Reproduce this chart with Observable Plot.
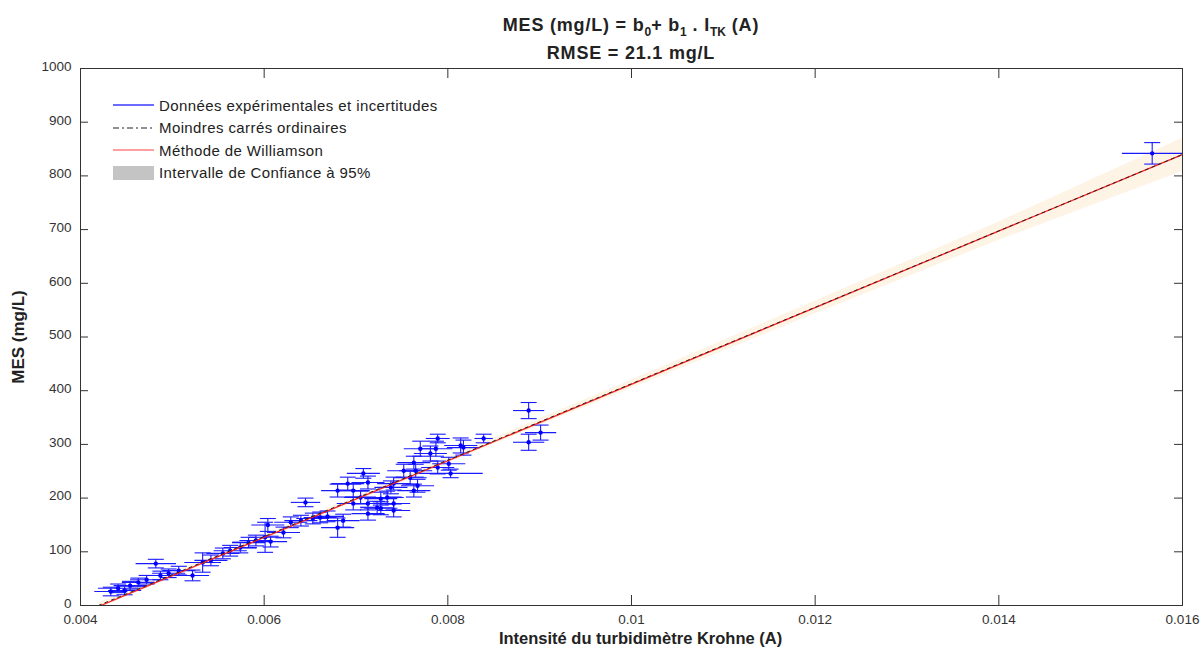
<!DOCTYPE html>
<html><head><meta charset="utf-8">
<script src="https://cdn.jsdelivr.net/npm/d3@7"></script>
<script src="https://cdn.jsdelivr.net/npm/@observablehq/plot@0.6"></script>
<style>
body{margin:0;background:#fff;font-family:"Liberation Sans",Arial,sans-serif;}
#wrap{position:relative;width:1203px;height:651px;overflow:hidden;}
#title{position:absolute;left:80px;width:1102px;top:11px;text-align:center;font-weight:bold;font-size:18px;letter-spacing:0.8px;color:#222;line-height:28px;}
#title sub{font-size:12px;vertical-align:-5px;line-height:0;letter-spacing:0;}
#legend{position:absolute;left:113px;top:94px;font-size:15px;letter-spacing:0.4px;color:#222;}
.row{height:22.5px;display:flex;align-items:center;}
.row svg{margin-right:5px;}
</style></head><body>
<div id="wrap"><div id="chart"></div>
<div id="title">MES (mg/L) = b<sub>0</sub>+ b<sub>1</sub> . I<sub>TK</sub> (A)<br>RMSE = 21.1 mg/L</div>
<div id="legend">
 <div class="row"><svg width="41" height="12"><line x1="0" x2="41" y1="6" y2="6" stroke="#3a3aff" stroke-width="1.3"/></svg>Données expérimentales et incertitudes</div>
 <div class="row"><svg width="41" height="12"><line x1="0" x2="41" y1="6" y2="6" stroke="#222" stroke-width="1.2" stroke-dasharray="6,3,2,3"/></svg>Moindres carrés ordinaires</div>
 <div class="row"><svg width="41" height="12"><line x1="0" x2="41" y1="6" y2="6" stroke="#ff4040" stroke-width="1.2"/></svg>Méthode de Williamson</div>
 <div class="row"><svg width="41" height="16"><rect x="0" y="1" width="41" height="14" fill="#c4c4c4"/></svg>Intervalle de Confiance à 95%</div>
</div>
</div>
<script>
// Experimental data (intensity in A, MES in mg/L) with uncertainties
const intensity = [0.00433,0.00441,0.00448,0.00454,0.00463,0.00472,0.00482,0.00487,0.00496,0.00507,
 0.00522,0.00533,0.00542,0.00555,0.00563,0.00574,0.00583,0.00591,0.00601,0.00607,
 0.00604,0.00621,0.00629,0.00640,0.00645,0.00653,0.00661,0.00669,0.00680,0.00686,
 0.00680,0.00691,0.00697,0.00697,0.00705,0.00708,0.00713,0.00713,0.00713,0.00723,
 0.00727,0.00727,0.00734,0.00738,0.00741,0.00741,0.00741,0.00752,0.00759,0.00763,
 0.00765,0.00767,0.00763,0.00770,0.00781,0.00787,0.00789,0.00789,0.00801,0.00803,
 0.00814,0.00817,0.00839,0.00888,0.00901,0.00888,0.01567];
const mes = [26,32,28,37,43,48,78,56,60,65,
 56,80,84,97,102,108,117,121,127,119,
 150,136,155,158,192,162,164,166,145,158,
 214,227,214,190,201,246,229,190,171,182,
 199,181,201,220,177,227,190,251,238,266,
 251,223,214,292,283,292,311,257,264,246,
 298,294,311,363,322,304,842];
const errI = [0.00018,0.00022,0.00018,0.00018,0.00018,0.00018,0.00022,0.00018,0.00018,0.00018,
 0.00018,0.00020,0.00018,0.00018,0.00018,0.00018,0.00018,0.00018,0.00018,0.00018,
 0.00018,0.00018,0.00018,0.00018,0.00016,0.00018,0.00018,0.00018,0.00018,0.00018,
 0.00018,0.00018,0.00018,0.00018,0.00018,0.00018,0.00018,0.00018,0.00018,0.00018,
 0.00018,0.00018,0.00018,0.00018,0.00018,0.00018,0.00018,0.00018,0.00018,0.00018,
 0.00018,0.00018,0.00018,0.00018,0.00018,0.00018,0.00013,0.00018,0.00018,0.00035,
 0.00018,0.00018,0.00010,0.00017,0.00017,0.00017,0.00033];
const errMES = [8,8,8,8,8,8,8,8,8,8,
 10,18,10,10,10,10,10,10,28,10,
 12,10,10,10,8,10,10,10,18,12,
 12,12,12,12,12,9,12,12,12,12,
 12,12,12,12,12,12,12,12,12,12,
 12,12,12,14,14,14,8,12,12,8,
 14,14,8,15,14,15,20];

const xTicks = [0.004,0.006,0.008,0.01,0.012,0.014,0.016];
const yTicks = [0,100,200,300,400,500,600,700,800,900,1000];

// Regression coefficients
const williamson = {b0:-300.9, b1:71300};
const ols = {b0:-298.5, b1:71150};

// 95% confidence band
const bandX = [0.0042,0.006,0.008,0.010,0.012,0.014,0.016];
const bandLow = [-5,123,265,404,543,680,808];
const bandHigh = [5,131,275,420,567,714,870];

const W=1203,H=651,mL=80,mR=21,mT=68,mB=46;
const pw=W-mL-mR, ph=H-mT-mB;
const xDom=[0.004,0.016], yDom=[0,1000];
const pxX=(xDom[1]-xDom[0])/pw, pxY=(yDom[1]-yDom[0])/ph;

const pts = intensity.map((x,i)=>({x, y:mes[i], ex:errI[i], ey:errMES[i]}));
const band = bandX.map((x,i)=>({x, lo:bandLow[i], hi:bandHigh[i]}));
const lineOf = c => [{x:-c.b0/c.b1, y:0},{x:xDom[1], y:c.b0+c.b1*xDom[1]}];
const cap = 8*pxX;
const blue = "#1a1aff";

const chart = Plot.plot({
  width:W, height:H, marginLeft:mL, marginRight:mR, marginTop:mT, marginBottom:mB,
  style:{fontFamily:"Liberation Sans, Arial, sans-serif", fontSize:"13px", color:"#333", background:"#fff"},
  x:{domain:xDom, label:null},
  y:{domain:yDom, label:null},
  marks:[
    Plot.areaY(band,{x:"x", y1:"lo", y2:"hi", fill:"#fef4e6", clip:true}),
    Plot.link(pts,{x1:d=>d.x-d.ex, x2:d=>d.x+d.ex, y1:"y", y2:"y", stroke:blue, strokeWidth:1.1}),
    Plot.link(pts,{x1:"x", x2:"x", y1:d=>d.y-d.ey, y2:d=>d.y+d.ey, stroke:blue, strokeWidth:1.1}),
    Plot.link(pts,{x1:d=>d.x-cap, x2:d=>d.x+cap, y1:d=>d.y+d.ey, y2:d=>d.y+d.ey, stroke:blue, strokeWidth:1.1}),
    Plot.link(pts,{x1:d=>d.x-cap, x2:d=>d.x+cap, y1:d=>d.y-d.ey, y2:d=>d.y-d.ey, stroke:blue, strokeWidth:1.1}),
    Plot.dot(pts,{x:"x", y:"y", r:2.2, fill:"#0000ff", stroke:"none"}),
    Plot.line(lineOf(williamson),{x:"x", y:"y", stroke:"#ff2020", strokeWidth:1.3, clip:true}),
    Plot.line(lineOf(ols),{x:"x", y:"y", stroke:"#222", strokeWidth:1, strokeDasharray:"3,4", clip:true}),
    Plot.frame({stroke:"#333", strokeWidth:1}),
    // inward ticks on all four sides
    Plot.ruleX(xTicks,{y1:yDom[0], y2:yDom[0]+10*pxY, stroke:"#333"}),
    Plot.ruleX(xTicks,{y1:yDom[1], y2:yDom[1]-10*pxY, stroke:"#333"}),
    Plot.ruleY(yTicks,{x1:xDom[0], x2:xDom[0]+8*pxX, stroke:"#333"}),
    Plot.ruleY(yTicks,{x1:xDom[1], x2:xDom[1]-8*pxX, stroke:"#333"}),
    Plot.axisX(xTicks,{tickSize:0, tickPadding:9, tickFormat:d=>String(d), fontSize:13.5, fill:"#333"}),
    Plot.axisY(yTicks,{tickSize:0, tickPadding:9, tickFormat:d=>String(d), fontSize:13.5, fill:"#333", dy:-2}),
    Plot.text(["Intensité du turbidimètre Krohne (A)"],{frameAnchor:"bottom", dx:9, dy:38, fontSize:16.5, fontWeight:"bold", fill:"#222"}),
    Plot.text(["MES (mg/L)"],{frameAnchor:"left", textAnchor:"middle", dx:-62, rotate:-90, fontSize:17, fontWeight:"bold", fill:"#222"})
  ]
});
document.getElementById("chart").appendChild(chart);
</script>
</body></html>
